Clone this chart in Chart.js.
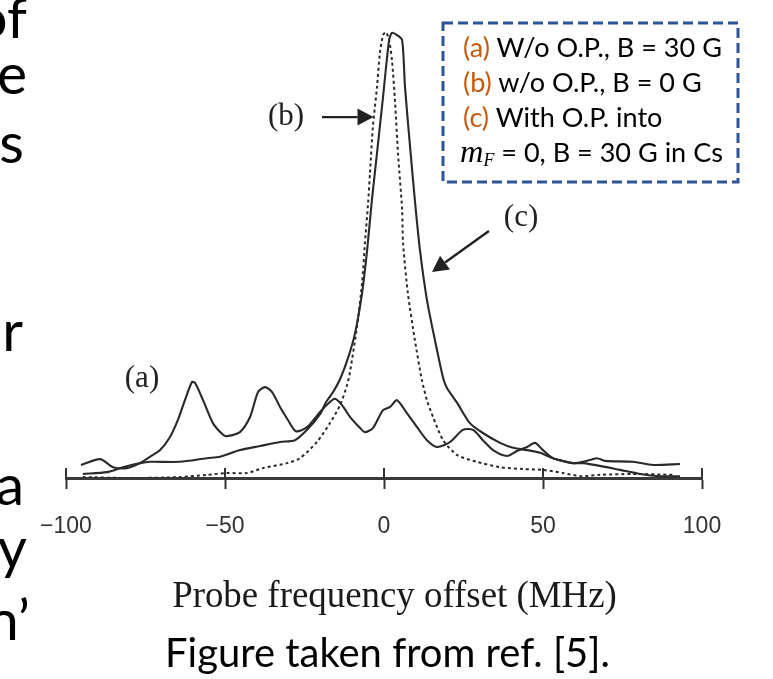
<!DOCTYPE html>
<html>
<head>
<meta charset="utf-8">
<script src="https://cdn.jsdelivr.net/npm/chart.js@4.4.1/dist/chart.umd.min.js"></script>
<style>
html,body{margin:0;padding:0;background:#fff;overflow:hidden}
#wrap{position:relative;width:773px;height:679px;overflow:hidden}
#c{position:absolute;left:0;top:0}
.t{position:absolute;white-space:nowrap;line-height:1;color:#000}
.bl{display:inline-block;width:0;height:0;vertical-align:baseline}
.slide{font-family:Lato,'Open Sans',sans-serif;font-size:57px}
.lg{font-family:Lato,'Open Sans',sans-serif;font-size:26px;color:#000}
.or{color:#C55A11}
.mi{font-family:'Liberation Serif','DejaVu Serif',serif;font-style:italic}
#title{font-family:'Liberation Serif','Times New Roman',serif;font-size:36px;color:#1a1a1a}
#cap{font-family:Lato,'Open Sans',sans-serif;font-size:32px}
#box{position:absolute;left:441px;top:21px}
</style>
</head>
<body>
<div id="wrap">
<canvas id="c" width="773" height="679"></canvas>
<svg id="box" width="300" height="165"><rect x="2" y="2" width="295" height="159" fill="none" stroke="#2F5597" stroke-width="3" stroke-dasharray="10 5"/></svg>
<span class="t lg" id="l1" data-b="57" data-l="463"><span class="or">(a)</span> W/o O.P., B = 30 G<i class="bl"></i></span>
<span class="t lg" id="l2" data-b="92" data-l="463"><span class="or">(b)</span> w/o O.P., B = 0 G<i class="bl"></i></span>
<span class="t lg" id="l3" data-b="127" data-l="463"><span class="or">(c)</span> With O.P. into<i class="bl"></i></span>
<span class="t lg" id="l4" data-b="162" data-l="460"><span class="mi" style="font-size:1.2em">m</span><sub class="mi" style="font-size:0.66em;vertical-align:-0.25em">F</sub> = 0, B = 30 G in Cs<i class="bl"></i></span>
<span class="t slide" data-r="27" data-b="38">of<i class="bl"></i></span>
<span class="t slide" data-r="27" data-b="94">e<i class="bl"></i></span>
<span class="t slide" data-r="24" data-b="163">s<i class="bl"></i></span>
<span class="t slide" data-r="23" data-b="351">r<i class="bl"></i></span>
<span class="t slide" data-r="24" data-b="505">a<i class="bl"></i></span>
<span class="t slide" data-r="27" data-b="568">y<i class="bl"></i></span>
<span class="t slide" data-r="30" data-b="640">n’<i class="bl"></i></span>
<span class="t" id="title">Probe frequency offset (MHz)<i class="bl"></i></span>
<span class="t" id="cap">Figure taken from ref. [5].<i class="bl"></i></span>
</div>
<script>
// ---- data ----
const xTickValues = [-100, -50, 0, 50, 100];

const aFreq   = [-95.3,-89.3,-85.2,-80.8,-76.7,-73.6,-70.4,-67.3,-64.8,-62.6,-60.4,-59.4,-56.9,-53.8,-50.6,-49.4,-45.3,-42.1,-39.6,-37.4,-35.2,-32.7,-30.2,-27.7,-24.2,-20.1,-17.0,-15.4,-13.2,-10.7,-7.5,-6.0,-3.5,-0.3,1.9,4.1,7.2,10.4,13.5,16.7,20.8,24.8,28.0,31.1,34.3,38.7,41.8,45.0,47.5,50.0,53.1,56.3,59.4,62.6,67.9,74.2,80.5,86.8,93.1];
const aSignal = [2.9,4.2,2.4,2.2,3.3,4.7,6.2,9.1,12.9,17.3,21.3,21.1,17.3,12.2,9.6,9.3,10.2,13.6,19.1,20.2,19.1,15.8,12.9,10.4,11.3,14.7,16.9,17.6,16.2,13.6,11.1,10.2,11.1,15.1,15.8,17.3,14.4,11.3,8.4,6.9,8.0,10.7,10.7,8.4,6.2,4.9,6.0,6.9,7.8,6.2,4.4,3.8,3.3,3.3,2.7,1.8,0.9,0.4,0.4];

const bFreq   = [-94.7,-79.9,-64.2,-55.7,-49.4,-43.1,-38.1,-30.5,-26.4,-21.1,-17.0,-13.8,-11.6,-10.7,-8.5,-6.9,-6.0,-5.0,-4.4,-3.5,-2.2,-1.3,-0.3,0.6,1.6,2.5,3.5,4.4,5.7,6.0,7.5,9.7,11.9,13.5,15.4,18.6,23.0,29.2,36.5,43.7,50.0,56.3,62.0,67.9,78.3,90.9];
const bSignal = [0.2,0.0,0.2,0.7,1.1,1.1,2.2,3.3,4.4,8.0,12.2,16.2,20.7,23.5,33.6,43.3,52.2,61.1,67.8,78.0,86.9,94.4,98.4,99.1,97.3,92.9,83.3,72.2,59.6,52.2,41.1,30.7,21.8,17.3,13.6,8.4,5.1,3.6,2.4,2.0,1.8,1.1,0.4,0.7,0.9,0.7];

const cFreq   = [-94.7,-87.1,-82.1,-76.7,-73.6,-64.2,-55.7,-51.6,-45.3,-39.0,-32.7,-28.0,-24.2,-20.1,-18.2,-16.0,-13.8,-11.3,-9.1,-6.9,-5.3,-3.8,-2.2,-0.3,1.6,2.5,4.1,5.7,6.6,8.2,9.7,11.3,13.5,16.0,18.6,19.8,23.0,27.0,31.1,36.5,40.6,45.0,49.1,53.1,59.4,64.8,67.0,69.5,78.3,84.6,93.1];
const cSignal = [0.9,1.3,2.4,3.3,3.6,3.6,4.4,4.7,6.2,7.1,8.0,8.4,10.7,14.2,16.9,19.1,22.0,26.7,32.2,41.1,50.7,61.8,72.2,84.7,97.3,98.9,98.4,97.3,86.9,73.6,61.8,50.7,39.6,30.7,22.2,20.0,16.7,12.2,10.0,7.8,6.7,6.2,5.6,4.4,3.3,4.0,4.4,3.8,3.6,2.9,3.1];

// annotation anchors in data units (freq, signal)
const annotLabels = [
  {text:'(a)', f:-76.1, v:22.0},
  {text:'(b)', f:-30.8, v:80.2},
  {text:'(c)', f:43.1, v:57.8}
];
const annotArrows = [
  {f0:-19.5, v0:80.2, f1:-3.3, v1:80.2},
  {f0:33.0, v0:54.9, f1:15.1, v1:45.8}
];

const toXY = (fs, vs) => fs.map((f, i) => ({x: f, y: vs[i]}));

const annotPlugin = {
  id: 'annot',
  afterDraw(chart) {
    const ctx = chart.ctx, xs = chart.scales.x, ys = chart.scales.y;
    const area = chart.chartArea;
    ctx.save();
    ctx.strokeStyle = '#333'; ctx.lineWidth = 2;
    xs.ticks.forEach(t => {
      const px = Math.round(xs.getPixelForValue(t.value));
      ctx.beginPath(); ctx.moveTo(px, area.bottom - 10); ctx.lineTo(px, area.bottom); ctx.stroke();
    });
    ctx.fillStyle = '#222';
    ctx.font = '31px "Liberation Serif", "Times New Roman", serif';
    ctx.textAlign = 'center'; ctx.textBaseline = 'middle';
    annotLabels.forEach(l => ctx.fillText(l.text, xs.getPixelForValue(l.f), ys.getPixelForValue(l.v)));
    ctx.strokeStyle = '#222'; ctx.lineWidth = 2.4;
    annotArrows.forEach(a => {
      const x0 = xs.getPixelForValue(a.f0), y0 = ys.getPixelForValue(a.v0);
      const x1 = xs.getPixelForValue(a.f1), y1 = ys.getPixelForValue(a.v1);
      const ang = Math.atan2(y1 - y0, x1 - x0), L = 16, W = 8.5;
      const bx = x1 - L * Math.cos(ang), by = y1 - L * Math.sin(ang);
      ctx.beginPath(); ctx.moveTo(x0, y0); ctx.lineTo(bx, by); ctx.stroke();
      ctx.beginPath();
      ctx.moveTo(x1, y1);
      ctx.lineTo(bx + W * Math.sin(ang), by - W * Math.cos(ang));
      ctx.lineTo(bx - W * Math.sin(ang), by + W * Math.cos(ang));
      ctx.closePath(); ctx.fill();
    });
    ctx.restore();
  }
};

new Chart(document.getElementById('c'), {
  type: 'line',
  data: {
    datasets: [
      {label:'(a) W/o O.P., B = 30 G', data: toXY(aFreq, aSignal), borderColor:'#2a2a2a', borderWidth:2.1, pointRadius:0, tension:0.25},
      {label:'(b) w/o O.P., B = 0 G', data: toXY(bFreq, bSignal), borderColor:'#2a2a2a', borderWidth:2, borderDash:[3,3], pointRadius:0, tension:0.25},
      {label:'(c) With O.P. into mF = 0, B = 30 G in Cs', data: toXY(cFreq, cSignal), borderColor:'#2a2a2a', borderWidth:2.1, pointRadius:0, tension:0.25}
    ]
  },
  options: {
    responsive: false,
    animation: false,
    devicePixelRatio: 1,
    layout: {padding: {left: 66, right: 71, top: 28, bottom: 0}},
    plugins: {legend: {display: false}, tooltip: {enabled: false}},
    scales: {
      x: {
        type: 'linear', min: -100, max: 100,
        afterBuildTicks: s => { s.ticks = xTickValues.map(v => ({value: v})); },
        afterFit: s => { s.height = 201; },
        border: {display: true, color: '#3a3a3a', width: 3},
        grid: {display: true, drawOnChartArea: false, drawTicks: true, tickLength: 11, tickWidth: 2, tickColor: '#333'},
        ticks: {
          padding: 24, color: '#333', maxRotation: 0, autoSkip: false,
          font: {family: '"Liberation Sans", Arial, sans-serif', size: 23},
          callback: v => String(v).replace('-', '\u2212')
        }
      },
      y: {type: 'linear', min: 0, max: 100, display: false}
    }
  },
  plugins: [annotPlugin]
});

// ---- text layout helpers ----
function baseOff(el) { return el.querySelector('.bl').offsetTop; }
function layoutText() {
  document.querySelectorAll('.slide').forEach(el => {
    el.style.right = (773 - parseFloat(el.dataset.r)) + 'px';
    el.style.top = (parseFloat(el.dataset.b) - baseOff(el)) + 'px';
  });
  const fit = (el, target) => {
    el.style.fontSize = '40px';
    const w = el.getBoundingClientRect().width;
    el.style.fontSize = (40 * target / w) + 'px';
  };
  const l1 = document.getElementById('l1');
  fit(l1, 259);
  const fsz = l1.style.fontSize;
  ['l1','l2','l3','l4'].forEach(id => {
    const el = document.getElementById(id);
    el.style.fontSize = fsz;
    el.style.left = el.dataset.l + 'px';
    el.style.top = (parseFloat(el.dataset.b) - baseOff(el)) + 'px';
  });
  const place = (id, target, cx, by) => {
    const el = document.getElementById(id);
    fit(el, target);
    const w = el.getBoundingClientRect().width;
    el.style.left = (cx - w / 2) + 'px';
    el.style.top = (by - baseOff(el)) + 'px';
  };
  place('title', 445, 394.5, 607);
  place('cap', 445, 387.5, 667);
}
layoutText();
if (document.fonts && document.fonts.ready) document.fonts.ready.then(layoutText);
</script>
</body>
</html>
